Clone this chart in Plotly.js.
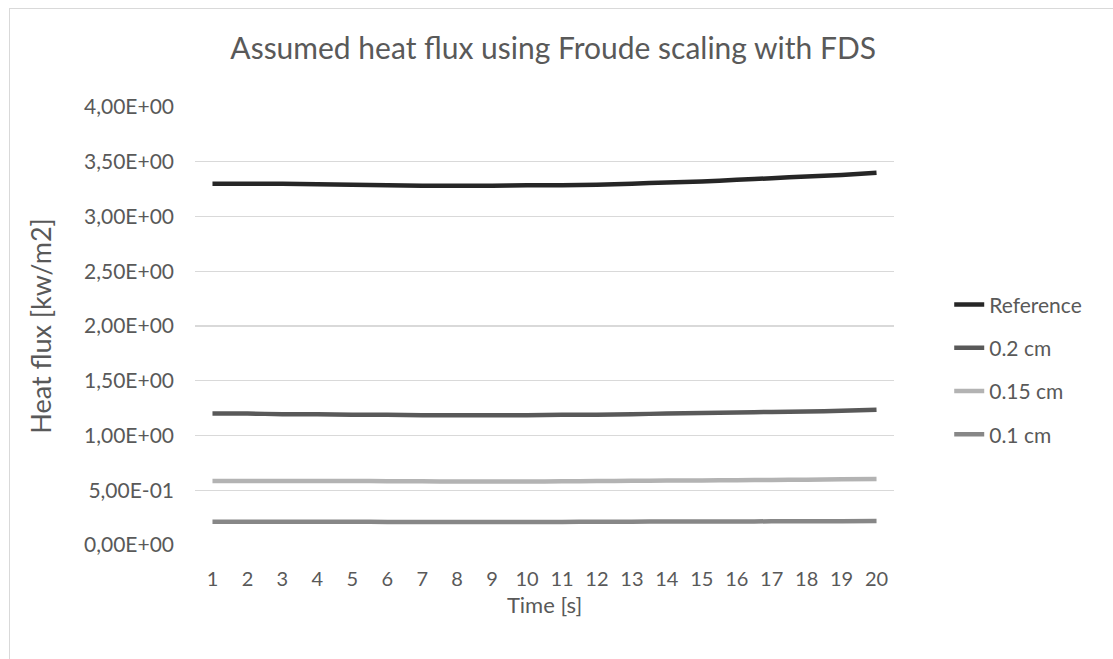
<!DOCTYPE html>
<html>
<head>
<meta charset="utf-8">
<script src="https://cdn.plot.ly/plotly-3.0.1.min.js"></script>
<style>
html,body{margin:0;padding:0;background:#fff;}
#wrap{position:relative;width:1113px;height:659px;}
#frame{position:absolute;left:9px;top:8px;width:1120px;height:700px;border-left:1px solid #d9d9d9;border-top:1px solid #d9d9d9;pointer-events:none;}
#chart{position:absolute;left:0;top:0;width:1113px;height:659px;}
</style>
</head>
<body>
<div id="wrap"><div id="chart"></div><div id="frame"></div></div>
<script>
const timeCats = [1,2,3,4,5,6,7,8,9,10,11,12,13,14,15,16,17,18,19,20];
const seriesNames = ["Reference","0.2 cm","0.15 cm","0.1 cm"];
const reference = [3.30,3.30,3.30,3.295,3.29,3.285,3.28,3.28,3.28,3.285,3.285,3.29,3.30,3.31,3.32,3.335,3.35,3.365,3.38,3.40];
const cm02 = [1.20,1.20,1.195,1.195,1.19,1.19,1.185,1.185,1.185,1.185,1.19,1.19,1.195,1.20,1.205,1.21,1.215,1.22,1.225,1.235];
const cm015 = [0.585,0.585,0.585,0.585,0.585,0.583,0.582,0.58,0.58,0.58,0.582,0.584,0.586,0.588,0.59,0.592,0.594,0.597,0.60,0.603];
const cm01 = [0.212,0.212,0.212,0.212,0.212,0.211,0.21,0.21,0.21,0.21,0.211,0.212,0.213,0.214,0.214,0.215,0.216,0.217,0.218,0.22];
const yTickVals = [0,0.5,1,1.5,2,2.5,3,3.5,4];
const yTickText = ["0,00E+00","5,00E-01","1,00E+00","1,50E+00","2,00E+00","2,50E+00","3,00E+00","3,50E+00","4,00E+00"];
const colors = ["#262626","#595959","#b3b3b3","#878787"];
const font = "Lato, 'Open Sans', sans-serif";
const allY = [reference, cm02, cm015, cm01];
const traces = allY.map((y,i)=>({
  x: timeCats, y: y, name: seriesNames[i], legendgroup:'g'+i, type:'scatter', mode:'lines',
  line:{color:colors[i], width:4.5, shape:'spline', smoothing:0.6}
}));
const layout = {
  width:1113, height:659,
  margin:{l:195,r:219,t:107,b:114},
  paper_bgcolor:'#fff', plot_bgcolor:'#fff',
  font:{family:font, color:'#595959', size:20},
  title:{text:"Assumed heat flux using Froude scaling with FDS", font:{size:30, color:'#595959', family:font}, x:0.497, xanchor:'center', y:0.927, yanchor:'middle'},
  xaxis:{type:'category', tickvals:timeCats, ticktext:timeCats.map(String), showgrid:false, zeroline:false, showline:false, ticks:'', range:[-0.5,19.5],
    tickfont:{size:20,color:'#595959'}, ticklabelstandoff:20, title:{text:"Time [s]", font:{size:22,color:'#595959'}, standoff:8}},
  yaxis:{range:[0,4], tickvals:yTickVals, ticktext:yTickText, showgrid:true, gridcolor:'#d9d9d9', gridwidth:1.3, zeroline:false, showline:false, ticks:'',
    tickfont:{size:21,color:'#595959'}, ticklabelstandoff:20, title:{text:"Heat flux [kw/m2]", font:{size:27,color:'#595959'}, standoff:24}},
  legend:{x:1.079, xanchor:'left', y:0.40, yanchor:'middle', font:{size:21,color:'#595959'}, tracegroupgap:13, bgcolor:'rgba(0,0,0,0)'},
  showlegend:true
};
Plotly.newPlot('chart', traces, layout, {displayModeBar:false, staticPlot:true});
</script>
</body>
</html>
